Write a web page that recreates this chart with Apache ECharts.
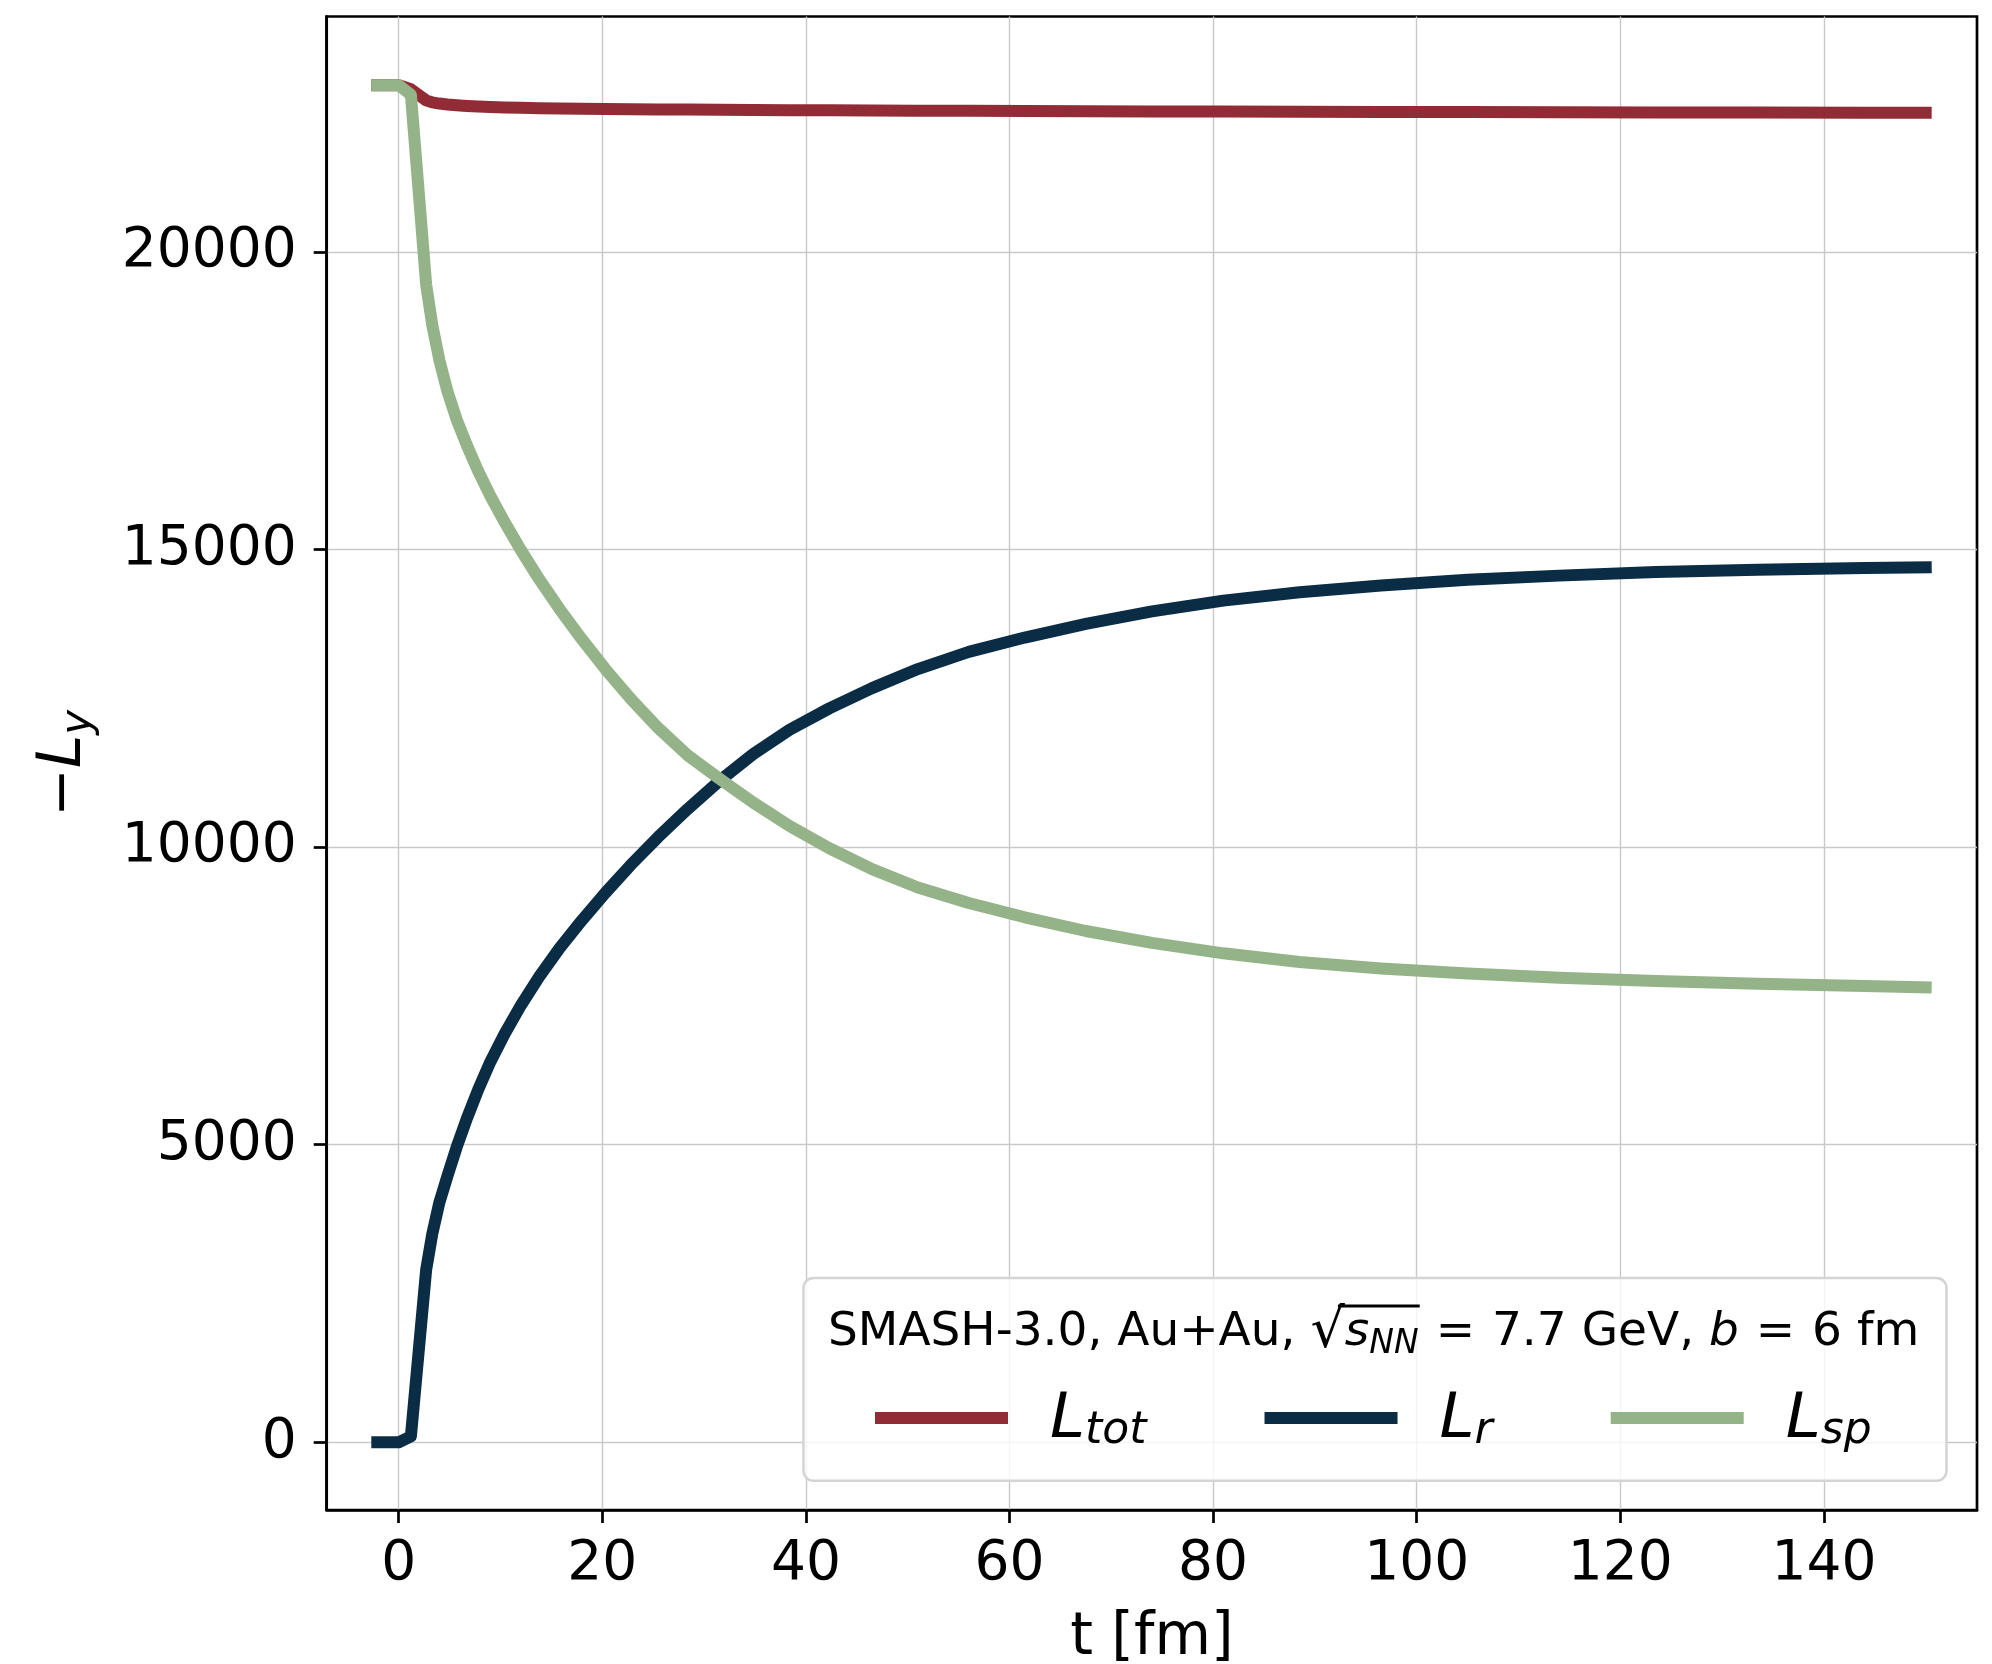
<!DOCTYPE html>
<html><head><meta charset="utf-8">
<script src="https://cdn.jsdelivr.net/npm/echarts@6/dist/echarts.min.js"></script>
<style>html,body{margin:0;padding:0;background:#fff}#c{width:1992px;height:1664px}</style>
</head><body><div id="c"></div>
<script>
// ---- data ----
const tValues = [-2.1, 0, 1.2, 2.7, 3.3, 4.0, 4.8, 5.7, 6.7, 7.8, 9.0, 10.4, 12.0, 13.8, 15.8, 18.0, 20.3, 22.8, 25.5, 28.4, 31.5, 34.8, 38.4, 42.3, 46.5, 51.0, 56, 61.5, 67.5, 74, 81, 88.5, 96.5, 105, 114, 123.5, 133.5, 144, 150];
const L_tot = [22800, 22800, 22730, 22545, 22510, 22490, 22475, 22462, 22450, 22440, 22432, 22425, 22419, 22413, 22408, 22403, 22399, 22395, 22392, 22389, 22386, 22383, 22380, 22377, 22374, 22371, 22368, 22365, 22362, 22359, 22356, 22353, 22350, 22347, 22344, 22342, 22340, 22337, 22336];
const L_r = [0, 0, 100, 2900, 3500, 4030, 4480, 4960, 5440, 5920, 6390, 6860, 7340, 7820, 8300, 8770, 9230, 9700, 10170, 10640, 11110, 11560, 11970, 12330, 12670, 12990, 13280, 13520, 13750, 13960, 14140, 14280, 14395, 14490, 14560, 14620, 14660, 14690, 14700];
const L_sp = [22800, 22800, 22640, 19450, 18770, 18180, 17650, 17180, 16750, 16320, 15900, 15460, 14990, 14500, 14000, 13490, 12990, 12490, 12000, 11540, 11150, 10750, 10355, 9980, 9630, 9320, 9060, 8820, 8590, 8390, 8215, 8070, 7960, 7875, 7805, 7748, 7703, 7666, 7644];
const xTicks = [0, 20, 40, 60, 80, 100, 120, 140];
const yTicks = [0, 5000, 10000, 15000, 20000];
const seriesNames = ['Ltot', 'Lr', 'Lsp'];
const seriesSubs = ['tot', 'r', 'sp'];
const seriesData = [L_tot, L_r, L_sp];
const colors = ['#912b36', '#0a2c44', '#95b388'];
const titleParts = ['SMASH-3.0, Au+Au, ', '√', 's', 'NN', ' ', '=', ' 7.7 GeV, ', 'b', ' ', '=', ' 6 fm'];

const FF = 'DejaVu Sans';
const chart = echarts.init(document.getElementById('c'), null, {renderer: 'canvas'});

// measure title pieces for the sqrt bar
const mc = document.createElement('canvas').getContext('2d');
function tw(txt, size, italic) { mc.font = (italic ? 'italic ' : '') + size + 'px "' + FF + '"'; return mc.measureText(txt).width; }
const titleLeft = 828, titleSize = 47, subSize = 33, sqSize = 54;
const w0 = tw(titleParts[0], titleSize, false);
const wsq = tw(titleParts[1], sqSize, false);
const ws = tw(titleParts[2], titleSize, true);
const wnn = tw(titleParts[3], subSize, true);
const barX1 = titleLeft + w0 + wsq * 0.8;
const barX2 = titleLeft + w0 + wsq + ws + wnn + 1;

const series = seriesNames.map((n, i) => ({
  type: 'line', name: n,
  data: tValues.map((t, k) => [t, seriesData[i][k]]),
  showSymbol: false, symbol: 'none', animation: false,
  lineStyle: {width: 12, color: colors[i], cap: 'square', join: 'round'},
  itemStyle: {color: colors[i]}, z: 3 + i
}));

const titleText = '{n|' + titleParts[0] + '}{q|' + titleParts[1] + '}{i|' + titleParts[2] + '}{sub|' + titleParts[3] + '}{n|' + titleParts[4] + '}{e|' + titleParts[5] + '}{n|' + titleParts[6] + '}{i|' + titleParts[7] + '}{n|' + titleParts[8] + '}{e|' + titleParts[9] + '}{n|' + titleParts[10] + '}';

const option = {
  animation: false,
  backgroundColor: '#fff',
  grid: {left: 326.7, top: 16.5, right: 15, bottom: 154, show: true, borderColor: '#000', borderWidth: 2.7, backgroundColor: 'transparent', outerBoundsMode: 'none', containLabel: false},
  xAxis: {
    type: 'value', min: -7.07, max: 155.04,
    axisLine: {show: true, onZero: false, lineStyle: {color: '#000', width: 2.7}},
    axisTick: {show: true, inside: false, length: 13, lineStyle: {color: '#000', width: 2.7}, customValues: xTicks},
    axisLabel: {show: true, customValues: xTicks, formatter: v => String(v), fontSize: 55, color: '#000', fontFamily: FF, margin: 27},
    splitLine: {show: true, lineStyle: {color: '#c9c9c9', width: 1.4}},
    name: 't [fm]', nameLocation: 'middle', nameGap: 100,
    nameTextStyle: {fontSize: 58, color: '#000', fontFamily: FF}
  },
  yAxis: {
    type: 'value', min: -1137, max: 23953,
    axisLine: {show: true, onZero: false, lineStyle: {color: '#000', width: 2.7}},
    axisTick: {show: true, inside: false, length: 13, lineStyle: {color: '#000', width: 2.7}, customValues: yTicks},
    axisLabel: {show: true, customValues: yTicks, formatter: v => String(v), fontSize: 55, color: '#000', fontFamily: FF, margin: 30},
    splitLine: {show: true, lineStyle: {color: '#c9c9c9', width: 1.4}},
    name: '{m|−}{L|L}{s|y}', nameLocation: 'middle', nameGap: 227, nameRotate: 90,
    nameTextStyle: {color: '#000', fontFamily: FF, rich: {
      m: {fontSize: 58, fontFamily: FF, color: '#000', lineHeight: 70},
      L: {fontSize: 60, fontFamily: FF, fontStyle: 'italic', color: '#000', lineHeight: 70},
      s: {fontSize: 42, fontFamily: FF, fontStyle: 'italic', color: '#000', lineHeight: 45, verticalAlign: 'bottom'}
    }}
  },
  legend: {
    show: true, orient: 'horizontal', left: 875, top: 1384, padding: 0,
    itemWidth: 133, itemHeight: 12, itemGap: 118, icon: 'rect', selectedMode: false, z: 20,
    data: seriesNames.map((n, i) => ({name: n, itemStyle: {color: colors[i]}})),
    formatter: function (name) { const i = seriesNames.indexOf(name); return '{L|L}{s|' + seriesSubs[i] + '}'; },
    textStyle: {color: '#000', fontFamily: FF, rich: {
      L: {fontSize: 63, fontFamily: FF, fontStyle: 'italic', color: '#000', lineHeight: 72, padding: [5, 0, 0, 37]},
      s: {fontSize: 44, fontFamily: FF, fontStyle: 'italic', color: '#000', lineHeight: 47, verticalAlign: 'bottom'}
    }}
  },
  graphic: [
    {type: 'rect', z: 10, shape: {x: 803.5, y: 1278, width: 1143, height: 202.7, r: 10},
     style: {fill: 'rgba(255,255,255,0.8)', stroke: '#d4d4d4', lineWidth: 2.5}},
    {type: 'text', z: 20, x: titleLeft, y: 1333,
     style: {
       text: titleText,
       verticalAlign: 'middle', align: 'left', fill: '#000', fontFamily: FF, fontSize: titleSize,
       rich: {
         n: {fontSize: titleSize, fontFamily: FF, fill: '#000', lineHeight: 56},
         e: {fontSize: titleSize, fontFamily: FF, fill: '#000', lineHeight: 56, padding: [0, 2, 0, 2]},
         q: {fontSize: sqSize, fontFamily: FF, fill: '#000', lineHeight: 56},
         i: {fontSize: titleSize, fontFamily: FF, fontStyle: 'italic', fill: '#000', lineHeight: 56},
         sub: {fontSize: subSize, fontFamily: FF, fontStyle: 'italic', fill: '#000', lineHeight: 36, verticalAlign: 'bottom'}
       }
     }},
    {type: 'line', z: 20, shape: {x1: barX1, y1: 1306, x2: barX2, y2: 1306}, style: {stroke: '#000', lineWidth: 3}}
  ],
  series: series
};
chart.setOption(option);
</script>
</body></html>
